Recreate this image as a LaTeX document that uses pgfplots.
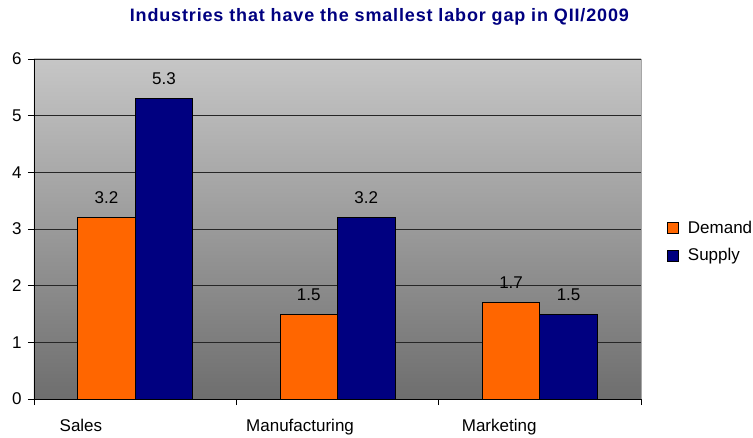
\documentclass[border=0pt]{standalone}
\usepackage{pgfplots}
\pgfplotsset{compat=1.18}
\usepackage{fontspec}
\setmainfont{Liberation Sans}
\newfontfamily\titlefont[LetterSpace=4.7]{Liberation Sans}
\definecolor{dem}{HTML}{FF6600}
\definecolor{sup}{HTML}{000080}
\definecolor{ttl}{HTML}{000080}
\definecolor{bgtop}{HTML}{C6C6C6}
\definecolor{bgbot}{HTML}{6E6E6E}
\begin{document}
\begin{tikzpicture}
\useasboundingbox (-34pt,-38pt) rectangle (719pt,399pt);
\begin{axis}[
  at={(0,0)}, anchor=south west,
  scale only axis, width=607pt, height=340pt,
  ymin=0, ymax=6, ytick={0,1,2,3,4,5,6},
  xmin=-0.5, xmax=2.5,
  ybar=0pt, bar width=57.5pt,
  axis background/.style={top color=bgtop, bottom color=bgbot},
  ymajorgrids, grid style={black!85, line width=0.7pt},
  axis lines*=left,
  axis line style={black, line width=0.8pt},
  tick align=outside, major tick length=6pt,
  tick style={black, line width=0.8pt},
  xtick={-0.5,0.5,1.5,2.5}, xticklabels={},
  extra x ticks={-0.268,0.815,1.799},
  extra x tick labels={Sales,Manufacturing,Marketing},
  extra x tick style={tick style={draw=none}, grid=none, xticklabel style={yshift=-11pt}},
  /pgf/number format/assume math mode=true,
  tick label style={font=\fontsize{17}{20}\selectfont},
  yticklabel style={xshift=-3pt},
  title={Industries that have the smallest labor gap in QII/2009},
  title style={at={(axis description cs:0.569,1.094)}, anchor=base,
    font=\titlefont\fontsize{18}{21}\bfseries\selectfont, text=ttl},
  nodes near coords={\pgfmathprintnumber[fixed,fixed zerofill,precision=1]{\pgfplotspointmeta}},
  every node near coord/.append style={font=\fontsize{17}{20}\selectfont, text=black, yshift=10pt},
  legend style={at={(1.043,0.463)}, anchor=west, draw=none, fill=none,
    font=\fontsize{17}{20}\selectfont, row sep=10pt, inner sep=0pt},
  legend cell align=left,
  legend image code/.code={\draw[#1, draw=black, line width=0.6pt] (0pt,-5.5pt) rectangle (11pt,5.5pt); \path (18pt,0pt);},
  after end axis/.code={\draw[black!35, line width=0.8pt] (rel axis cs:1,0) -- (rel axis cs:1,1);},
]
\addplot[fill=dem, draw=black, line width=0.7pt] coordinates {(0,3.2) (1,1.5) (2,1.7)};
\addplot[fill=sup, draw=black, line width=0.7pt] coordinates {(0,5.3) (1,3.2) (2,1.5)};
\legend{Demand,Supply}
\end{axis}
\end{tikzpicture}
\end{document}
